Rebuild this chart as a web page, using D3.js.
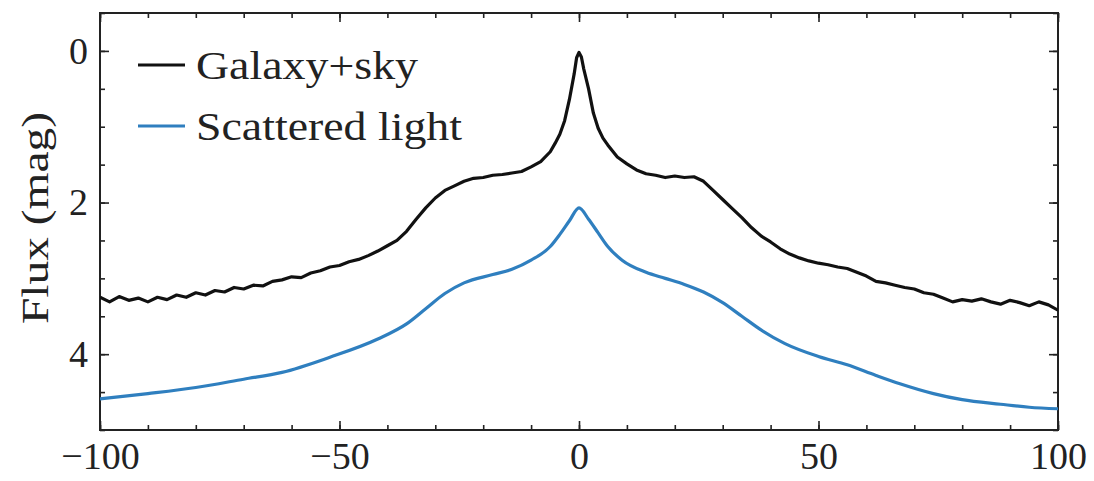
<!DOCTYPE html>
<html>
<head>
<meta charset="utf-8">
<script src="https://cdn.jsdelivr.net/npm/d3@7"></script>
<style>
  body { margin: 0; background: #fff; }
  svg { display: block; }
  text { font-family: "Liberation Serif", "DejaVu Serif", serif; fill: #222; }
</style>
</head>
<body>
<div id="ChartContainer"></div>
<script>
// Galaxy+sky profile (position, mag)
const galaxyX = [-100,-98,-96,-94,-92,-90,-88,-86,-84,-82,-80,-78,-76,-74,-72,-70,-68,-66,-64,-62,
  -60,-58,-56,-54,-52,-50,-48,-46,-44,-42,-40,-38,-36,-34,-32,-30,-28,-26,-24,-22,
  -20,-18,-16,-14,-12,-10,-8,-6,-5,-4,-3,-2,-1,-0.5,0,0.5,1,2,3,4,5,6,8,10,12,14,16,18,20,
  22,24,26,28,30,32,34,36,38,40,42,44,46,48,50,52,54,56,58,60,62,64,66,68,70,
  72,74,76,78,80,82,84,86,88,90,92,94,96,98,100];
const galaxyMag = [3.25,3.31,3.24,3.29,3.26,3.31,3.25,3.28,3.22,3.25,3.19,3.22,3.16,3.18,3.12,3.14,3.09,3.10,3.04,3.02,
  2.98,2.99,2.93,2.90,2.85,2.83,2.78,2.75,2.70,2.64,2.57,2.50,2.38,2.22,2.07,1.94,1.84,1.78,1.72,1.68,
  1.67,1.64,1.63,1.61,1.59,1.53,1.46,1.33,1.22,1.10,0.92,0.64,0.30,0.09,0.02,0.08,0.24,0.50,0.82,1.02,1.15,1.24,1.40,1.49,1.57,1.62,1.64,1.67,1.65,
  1.67,1.66,1.72,1.84,1.96,2.08,2.20,2.33,2.44,2.52,2.61,2.68,2.73,2.77,2.80,2.82,2.85,2.87,2.92,2.97,3.04,3.06,3.09,3.12,3.14,
  3.19,3.21,3.26,3.31,3.28,3.30,3.27,3.31,3.34,3.29,3.32,3.36,3.31,3.35,3.42];

// Scattered light profile (position, mag)
const scatterX = [-100,-90,-80,-70,-62,-52,-42,-36,-32,-28,-24,-18,-14,-10,-6,-4,-2,0,2,4,6,9,14,18,22,26,30,34,38,43,50,56,62,67,74,80,88,94,100];
const scatterMag = [4.59,4.52,4.44,4.33,4.24,4.04,3.80,3.60,3.40,3.20,3.06,2.95,2.88,2.76,2.58,2.42,2.24,2.07,2.22,2.40,2.58,2.76,2.92,3.00,3.08,3.18,3.32,3.50,3.68,3.86,4.03,4.14,4.28,4.39,4.52,4.60,4.66,4.70,4.72];

const xMajor = [-100, -50, 0, 50, 100];
const yMajor = [0, 2, 4];
const legendLabels = ["Galaxy+sky", "Scattered light"];
const colors = ["#111111", "#2f7fbf"];

const W = 1094, H = 481;
const margin = { top: 13, right: 36, bottom: 51, left: 100 };
const width = W - margin.left - margin.right;
const height = H - margin.top - margin.bottom;

const svg = d3.select("#ChartContainer").append("svg")
    .attr("width", W).attr("height", H);
const g = svg.append("g").attr("transform", `translate(${margin.left},${margin.top})`);

const xScale = d3.scaleLinear().domain([-100, 100]).range([0, width]);
const yScale = d3.scaleLinear().domain([-0.5, 5]).range([0, height]);

const xMinor = d3.range(-100, 101, 10);
const yMinor = d3.range(-0.5, 5.01, 0.5);

// ticks pointing inward on all four sides
function addAxis(axisFn, scale, values, size, labels, transform) {
    const ax = axisFn(scale).tickValues(values).tickSize(-size).tickSizeOuter(0).tickPadding(12);
    ax.tickFormat(labels ? d3.format("d") : "");
    const sel = g.append("g").attr("transform", transform).call(ax);
    sel.select(".domain").remove();
    sel.selectAll("line").attr("stroke", "#222").attr("stroke-width", 1.6);
    sel.selectAll("text").style("font-size", "38px").attr("fill", "#222");
    return sel;
}
addAxis(d3.axisBottom, xScale, xMinor, 5, false, `translate(0,${height})`);
addAxis(d3.axisBottom, xScale, xMajor, 9, true, `translate(0,${height})`);
addAxis(d3.axisTop, xScale, xMinor, 5, false, "translate(0,0)");
addAxis(d3.axisTop, xScale, xMajor, 9, false, "translate(0,0)");
addAxis(d3.axisLeft, yScale, yMinor, 5, false, "translate(0,0)");
addAxis(d3.axisLeft, yScale, yMajor, 9, true, "translate(0,0)");
addAxis(d3.axisRight, yScale, yMinor, 5, false, `translate(${width},0)`);
addAxis(d3.axisRight, yScale, yMajor, 9, false, `translate(${width},0)`);

g.append("rect")
    .attr("width", width).attr("height", height)
    .attr("fill", "none").attr("stroke", "#222").attr("stroke-width", 2);

g.append("defs").append("clipPath").attr("id", "clip")
    .append("rect").attr("width", width).attr("height", height);

const lines = g.append("g").attr("clip-path", "url(#clip)");

lines.append("path")
    .datum(galaxyX.map((x, i) => [x, galaxyMag[i]]))
    .attr("fill", "none")
    .attr("stroke", colors[0])
    .attr("stroke-width", 3.2)
    .attr("stroke-linejoin", "round")
    .attr("d", d3.line().x(d => xScale(d[0])).y(d => yScale(d[1])));

lines.append("path")
    .datum(scatterX.map((x, i) => [x, scatterMag[i]]))
    .attr("fill", "none")
    .attr("stroke", colors[1])
    .attr("stroke-width", 3.2)
    .attr("d", d3.line().curve(d3.curveMonotoneX).x(d => xScale(d[0])).y(d => yScale(d[1])));

// legend
const legendWidths = [222, 266];
legendLabels.forEach(function(label, i) {
    const ly = 52 + i * 61;
    g.append("line")
        .attr("x1", 38).attr("x2", 85).attr("y1", ly).attr("y2", ly)
        .attr("stroke", colors[i]).attr("stroke-width", 3.2);
    g.append("text")
        .attr("x", 96).attr("y", ly + 14)
        .attr("textLength", legendWidths[i])
        .attr("lengthAdjust", "spacingAndGlyphs")
        .style("font-size", "39px")
        .text(label);
});

// y label
svg.append("text")
    .attr("transform", "translate(48,218) rotate(-90)")
    .attr("text-anchor", "middle")
    .attr("textLength", 212)
    .attr("lengthAdjust", "spacingAndGlyphs")
    .style("font-size", "38px")
    .text("Flux (mag)");
</script>
</body>
</html>
